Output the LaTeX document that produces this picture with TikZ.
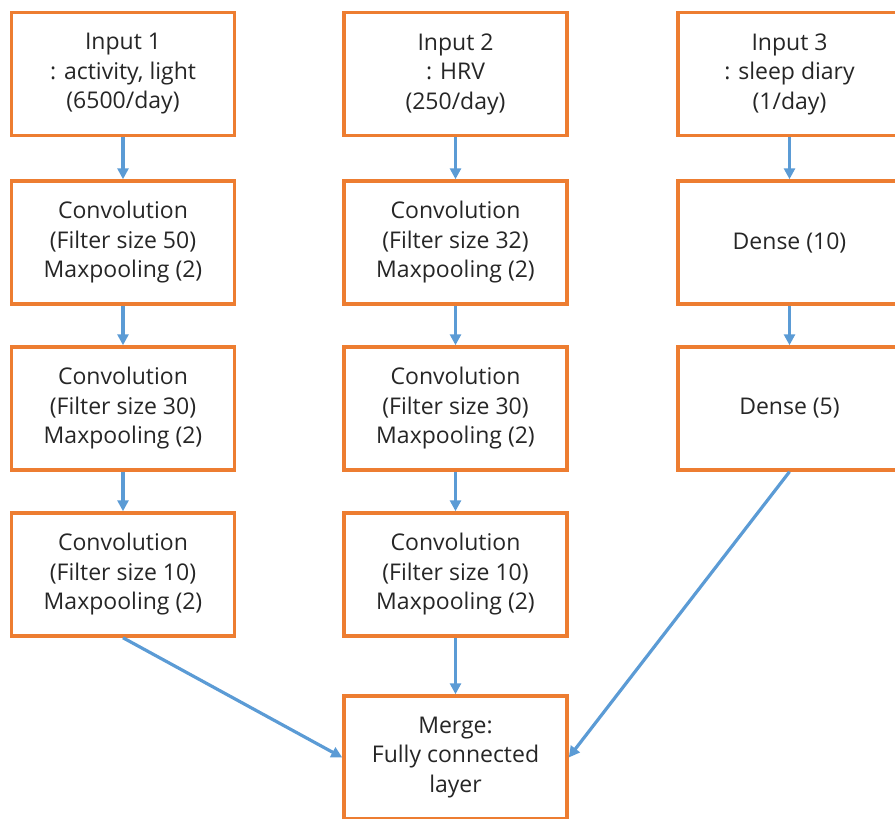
\documentclass[tikz,border=0pt]{standalone}
\usepackage{fontspec}
\setmainfont{Open Sans}
\usetikzlibrary{arrows.meta}
\definecolor{boxorange}{HTML}{ED7D31}
\definecolor{arrowblue}{HTML}{5B9BD5}
\tikzset{
  layer/.style={draw=boxorange,line width=3.5pt,fill=white,minimum width=223pt,minimum height=123pt,
    align=center,font=\fontsize{23}{29.5}\selectfont,text=black!85},
  flow/.style={arrowblue,line width=3.2pt,-{Triangle[length=11pt,width=11pt]}}
}
\begin{document}
\begin{tikzpicture}[x=1pt,y=-1pt]
  \useasboundingbox (0,0) rectangle (895,819);
  % column 1
  \node[layer] (in1) at (123,74) {Input 1\\: activity, light\\(6500/day)};
  \node[layer] (a1) at (123,242.5) {Convolution\\(Filter size 50)\\Maxpooling (2)};
  \node[layer] (a2) at (123,408.5) {Convolution\\(Filter size 30)\\Maxpooling (2)};
  \node[layer] (a3) at (123,574.5) {Convolution\\(Filter size 10)\\Maxpooling (2)};
  % column 2
  \node[layer] (in2) at (455.5,74) {Input 2\\: HRV\\(250/day)};
  \node[layer] (b1) at (455.5,242.5) {Convolution\\(Filter size 32)\\Maxpooling (2)};
  \node[layer] (b2) at (455.5,408.5) {Convolution\\(Filter size 30)\\Maxpooling (2)};
  \node[layer] (b3) at (455.5,574.5) {Convolution\\(Filter size 10)\\Maxpooling (2)};
  % column 3
  \node[layer] (in3) at (789.5,74) {Input 3\\: sleep diary\\(1/day)};
  \node[layer] (c1) at (789.5,242.5) {Dense (10)};
  \node[layer] (c2) at (789.5,408.5) {Dense (5)};
  \node[layer] (merge) at (455.5,757.5) {Merge:\\Fully connected\\layer};
  \draw[flow] (in1) -- (a1);
  \draw[flow] (a1) -- (a2);
  \draw[flow] (a2) -- (a3);
  \draw[flow] (in2) -- (b1);
  \draw[flow] (b1) -- (b2);
  \draw[flow] (b2) -- (b3);
  \draw[flow] (b3) -- (merge);
  \draw[flow] (in3) -- (c1);
  \draw[flow] (c1) -- (c2);
  \draw[flow] (a3.south) -- (merge.west);
  \draw[flow] (c2.south) -- (merge.east);
\end{tikzpicture}
\end{document}
